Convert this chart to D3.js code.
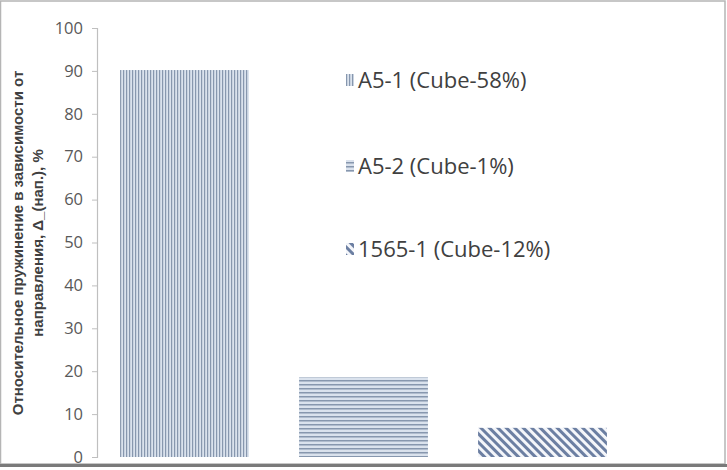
<!DOCTYPE html>
<html>
<head>
<meta charset="utf-8">
<script src="https://cdn.jsdelivr.net/npm/d3@7"></script>
<style>
  body { margin: 0; background: #fff; }
  svg { display: block; font-family: "Open Sans", "Noto Sans", sans-serif; }
</style>
</head>
<body>
<div id="chart"></div>
<script>
// data
const categories = ["A5-1 (Cube-58%)", "A5-2 (Cube-1%)", "1565-1 (Cube-12%)"];
const values = [90.2, 18.6, 6.8];
const patternIds = ["hatch-v", "hatch-h", "hatch-d"];
const yTicks = [0, 10, 20, 30, 40, 50, 60, 70, 80, 90, 100];
const yTitle = ["Относительное пружинение в зависимости от", "направления, Δ_(нап.), %"];

const width = 727, height = 470;

const svg = d3.select("#chart")
    .append("svg")
        .attr("width", width)
        .attr("height", height);

// patterns
const defs = svg.append("defs");

//vertical stripes
const pv = defs.append("pattern")
    .attr("id", "hatch-v")
    .attr("patternUnits", "userSpaceOnUse")
    .attr("width", 3).attr("height", 10);
pv.append("rect").attr("width", 3).attr("height", 10).attr("fill", "#dae2ed");
pv.append("rect").attr("x", 0).attr("width", 1.2).attr("height", 10).attr("fill", "#8797ae");

//horizontal stripes
const ph = defs.append("pattern")
    .attr("id", "hatch-h")
    .attr("patternUnits", "userSpaceOnUse")
    .attr("width", 10).attr("height", 4);
ph.append("rect").attr("width", 10).attr("height", 4).attr("fill", "#dae2ed");
ph.append("rect").attr("y", 0).attr("width", 10).attr("height", 1.5).attr("fill", "#8797ae");

//diagonal stripes
const pd = defs.append("pattern")
    .attr("id", "hatch-d")
    .attr("patternUnits", "userSpaceOnUse")
    .attr("width", 6).attr("height", 6)
    .attr("patternTransform", "rotate(-45)");
pd.append("rect").attr("width", 6).attr("height", 6).attr("fill", "#f4f6fa");
pd.append("rect").attr("x", 0).attr("width", 3).attr("height", 6).attr("fill", "#6c7fa2");

// frame
svg.append("rect")
    .attr("x", 0.5).attr("y", 1)
    .attr("width", 724.5).attr("height", 463)
    .attr("fill", "none")
    .attr("stroke", "#b5b5b5")
    .attr("stroke-width", 1.5);
svg.append("line")
    .attr("x1", 0).attr("x2", 727)
    .attr("y1", 465.5).attr("y2", 465.5)
    .attr("stroke", "#7a7a7a")
    .attr("stroke-width", 3);

// scales
const x = d3.scaleBand()
    .domain(categories)
    .range([95, 632])
    .paddingInner(0.28)
    .paddingOuter(0.14);

const y = d3.scaleLinear()
    .domain([0, 100])
    .range([457, 28]);

// y axis
const yAxis = svg.append("g")
    .attr("transform", "translate(97,0)")
    .call(d3.axisLeft(y).tickValues(yTicks).tickSize(5).tickPadding(9));
yAxis.attr("font-size", 16.5).attr("font-family", "Open Sans, sans-serif");
yAxis.select(".domain").attr("stroke", "#bfbfbf").attr("stroke-width", 1.2);
yAxis.selectAll(".tick line").attr("stroke", "#bfbfbf");
yAxis.selectAll(".tick text").attr("fill", "#595959");

// bars
svg.append("g")
    .selectAll("rect")
    .data(values)
    .join("rect")
        .attr("x", (d, i) => x(categories[i]))
        .attr("y", d => y(d))
        .attr("width", x.bandwidth())
        .attr("height", d => y(0) - y(d))
        .attr("fill", (d, i) => `url(#${patternIds[i]})`);

// legend
const legendY = [80, 166, 249];
const legend = svg.append("g")
    .selectAll("g")
    .data(categories)
    .join("g")
        .attr("transform", (d, i) => `translate(346,${legendY[i]})`);
legend.append("rect")
    .attr("x", 0).attr("y", -6)
    .attr("width", 8).attr("height", 12)
    .attr("fill", (d, i) => `url(#${patternIds[i]})`);
legend.append("text")
    .attr("x", 12)
    .attr("dy", "0.35em")
    .attr("fill", "#404040")
    .style("font-size", "22px")
    .text(d => d);

// y title
const yt = svg.append("text")
    .attr("transform", "translate(28,243) rotate(-90)")
    .attr("text-anchor", "middle")
    .attr("fill", "#404040")
    .style("font-size", "15px")
    .style("font-weight", "bold")
    .style("font-family", "Liberation Sans, Arial, sans-serif");
yt.selectAll("tspan")
    .data(yTitle)
    .join("tspan")
        .attr("x", 0)
        .attr("y", (d, i) => i * 20 - 5)
        .text(d => d);
</script>
</body>
</html>
